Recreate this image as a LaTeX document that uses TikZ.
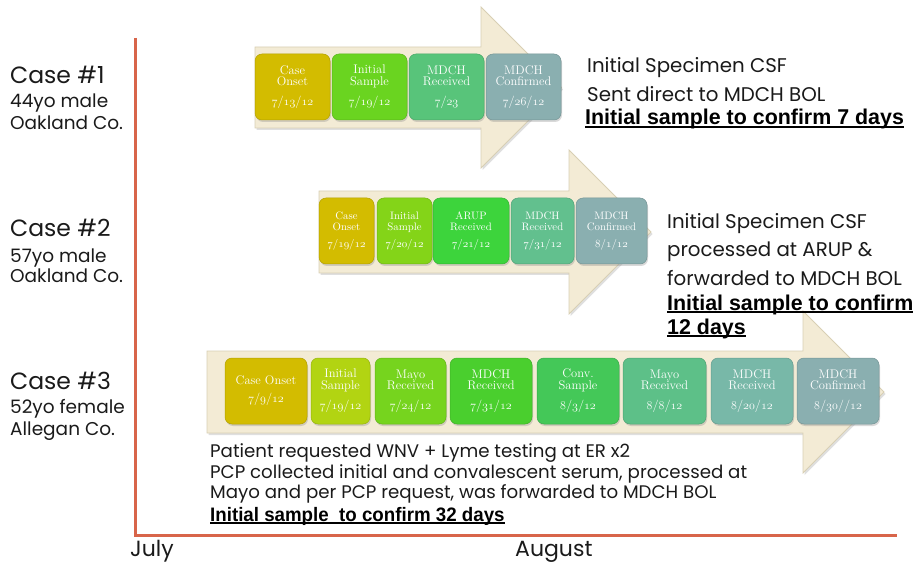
\documentclass[tikz,border=0pt]{standalone}
\usepackage{fontspec}
\usetikzlibrary{shadows}
\newfontfamily\gothic{Poppins}
\newfontfamily\arialfont{Liberation Sans}
\newfontfamily\arialcond[FakeStretch=0.96]{Liberation Sans}
\newcommand\on[1]{\legacyoldstylenums{#1}}
\newcommand\thul[1]{\setbox0=\hbox{#1}\leavevmode\rlap{\rule[-2.8pt]{\wd0}{1.6pt}}\box0}
\definecolor{axisred}{HTML}{D8654A}
\definecolor{cream}{HTML}{F3EBD5}
\definecolor{creamedge}{HTML}{D8CFB4}
\definecolor{mustard}{HTML}{D3BC00}
\definecolor{gA}{HTML}{6AD420}
\definecolor{gB}{HTML}{58C47A}
\definecolor{gC}{HTML}{8AAFB0}
\definecolor{hB}{HTML}{84D418}
\definecolor{hC}{HTML}{3DD43C}
\definecolor{hD}{HTML}{62C08E}
\definecolor{kB}{HTML}{B2D412}
\definecolor{kC}{HTML}{76D41E}
\definecolor{kD}{HTML}{4ACF2E}
\definecolor{kE}{HTML}{44C858}
\definecolor{kF}{HTML}{5DC088}
\definecolor{kG}{HTML}{78B8A8}
\definecolor{textgray}{HTML}{1A1A1A}
\tikzset{
  arrowbody/.style={fill=cream, draw=creamedge, line width=0.8pt,
    drop shadow={shadow xshift=1.5pt, shadow yshift=-2pt, opacity=0.25}},
  stage/.style={rounded corners=7pt, draw=#1!85!black, fill=#1, line width=0.5pt,
    text=white, align=center, inner sep=0pt,
    drop shadow={shadow xshift=1pt, shadow yshift=-2pt, opacity=0.3},
    font=\fontsize{12.5}{11.5}\selectfont},
  smallstage/.style={stage=#1, font=\fontsize{10.8}{11}\selectfont},
  casehead/.style={anchor=base west, inner sep=0pt, text=textgray, font=\gothic\fontsize{23.5}{24}\selectfont},
  casesub/.style={anchor=base west, inner sep=0pt, text=textgray, font=\gothic\fontsize{18.5}{18}\selectfont},
  note/.style={anchor=base west, inner sep=0pt, text=textgray, font=\gothic\fontsize{19.8}{22}\selectfont},
  notebold/.style={anchor=base west, inner sep=0pt, text=black, font=\arialfont\bfseries\fontsize{21.4}{23}\selectfont},
  condnote/.style={anchor=base west, inner sep=0pt, text=textgray, font=\gothic\fontsize{18.2}{20}\selectfont},
  condbold/.style={anchor=base west, inner sep=0pt, text=black, font=\arialcond\bfseries\fontsize{19.5}{21}\selectfont},
  month/.style={anchor=base west, inner sep=0pt, text=textgray, font=\gothic\fontsize{22}{22}\selectfont},
}
\begin{document}
\begin{tikzpicture}[x=1pt,y=-1pt]
\useasboundingbox (0,0) rectangle (924,564);

% axes
\coordinate (axtop) at (135,38);
\coordinate (axorg) at (135,535);
\coordinate (axend) at (897,535);
\draw[axisred, line width=3pt, line join=miter] (axtop) -- (axorg) -- (axend);

% case 1 arrow
\filldraw[arrowbody] (255,47) -- (481,47) -- (481,7) -- (561.5,87.5) -- (481,168) -- (481,128) -- (255,128) -- cycle;
\node[stage=mustard, minimum width=75pt, minimum height=66pt] (a1) at (292.5,87) {Case\\Onset\\[8pt]\on{7}/\on{13}/\on{12}};
\node[stage=gA, minimum width=75pt, minimum height=66pt] (a2) at (369.5,87) {Initial\\Sample\\[8pt]\on{7}/\on{19}/\on{12}};
\node[stage=gB, minimum width=75pt, minimum height=66pt] (a3) at (446.5,87) {MDCH\\Received\\[8pt]\on{7}/\on{23}};
\node[stage=gC, minimum width=75pt, minimum height=66pt] (a4) at (523.5,87) {MDCH\\Confirmed\\[8pt]\on{7}/\on{26}/\on{12}};

% case 2 arrow
\filldraw[arrowbody] (319,191) -- (569,191) -- (569,150) -- (651,232) -- (569,314) -- (569,273) -- (319,273) -- cycle;
\node[smallstage=mustard, minimum width=55pt, minimum height=66pt] (b1) at (346.5,231) {Case\\Onset\\[6pt]\on{7}/\on{19}/\on{12}};
\node[smallstage=hB, minimum width=55pt, minimum height=66pt] (b2) at (404.5,231) {Initial\\Sample\\[6pt]\on{7}/\on{20}/\on{12}};
\node[smallstage=hC, minimum width=76pt, minimum height=66pt] (b3) at (471,231) {ARUP\\Received\\[6pt]\on{7}/\on{21}/\on{12}};
\node[smallstage=hD, minimum width=63pt, minimum height=66pt] (b4) at (542.5,231) {MDCH\\Received\\[6pt]\on{7}/\on{31}/\on{12}};
\node[smallstage=gC, minimum width=71pt, minimum height=66pt] (b5) at (611.5,231) {MDCH\\Confirmed\\[6pt]\on{8}/\on{1}/\on{12}};

% case 3 arrow
\filldraw[arrowbody] (207,351) -- (803,351) -- (803,311) -- (884,392) -- (803,473) -- (803,433) -- (207,433) -- cycle;
\node[stage=mustard, minimum width=82pt, minimum height=66pt] (k1) at (266,391) {Case Onset\\[6.5pt]\on{7}/\on{9}/\on{12}};
\node[stage=kB, minimum width=59pt, minimum height=66pt] (k2) at (340.5,391) {Initial\\Sample\\[8pt]\on{7}/\on{19}/\on{12}};
\node[stage=kC, minimum width=71pt, minimum height=66pt] (k3) at (410.5,391) {Mayo\\Received\\[8pt]\on{7}/\on{24}/\on{12}};
\node[stage=kD, minimum width=82pt, minimum height=66pt] (k4) at (491,391) {MDCH\\Received\\[8pt]\on{7}/\on{31}/\on{12}};
\node[stage=kE, minimum width=82pt, minimum height=66pt] (k5) at (578,391) {Conv.\\Sample\\[8pt]\on{8}/\on{3}/\on{12}};
\node[stage=kF, minimum width=83pt, minimum height=66pt] (k6) at (664.5,391) {Mayo\\Received\\[8pt]\on{8}/\on{8}/\on{12}};
\node[stage=kG, minimum width=82pt, minimum height=66pt] (k7) at (752,391) {MDCH\\Received\\[8pt]\on{8}/\on{20}/\on{12}};
\node[stage=gC, minimum width=82pt, minimum height=66pt] (k8) at (838,391) {MDCH\\Confirmed\\[8pt]\on{8}/\on{30}//\on{12}};

% left case labels
\node[casehead] (c1h) at (10,84) {Case \#1};
\node[casesub] (c1a) at (10,108) {44yo male};
\node[casesub] (c1b) at (10,130) {Oakland Co.};
\node[casehead] (c2h) at (10,237) {Case \#2};
\node[casesub] (c2a) at (10,262) {57yo male};
\node[casesub] (c2b) at (10,283) {Oakland Co.};
\node[casehead] (c3h) at (10,389) {Case \#3};
\node[casesub] (c3a) at (10,413) {52yo female};
\node[casesub] (c3b) at (10,435) {Allegan Co.};

% case 1 notes
\node[note] (n1a) at (587,73) {Initial Specimen CSF};
\node[note] (n1b) at (587,102) {Sent direct to MDCH BOL};
\node[notebold] (n1c) at (585,125) {\thul{Initial sample to confirm 7 days}};

% case 2 notes
\node[note] (n2a) at (667,229) {Initial Specimen CSF};
\node[note] (n2b) at (667,257) {processed at ARUP \&};
\node[note] (n2c) at (667,285) {forwarded to MDCH BOL};
\node[notebold] (n2d) at (667,310) {\thul{Initial sample to confirm}};
\node[notebold] (n2e) at (667,334) {\thul{12 days}};

% case 3 notes
\node[condnote] (n3a) at (210,457) {Patient requested WNV + Lyme testing at ER x2};
\node[condnote] (n3b) at (210,478) {PCP collected initial and convalescent serum, processed at};
\node[condnote] (n3c) at (210,498) {Mayo and per PCP request, was forwarded to MDCH BOL};
\node[condbold] (n3d) at (210,521) {\thul{Initial sample \ to confirm 32 days}};

% months
\node[month] (mjul) at (130,556) {July};
\node[month] (maug) at (515,556) {August};
\end{tikzpicture}
\end{document}
